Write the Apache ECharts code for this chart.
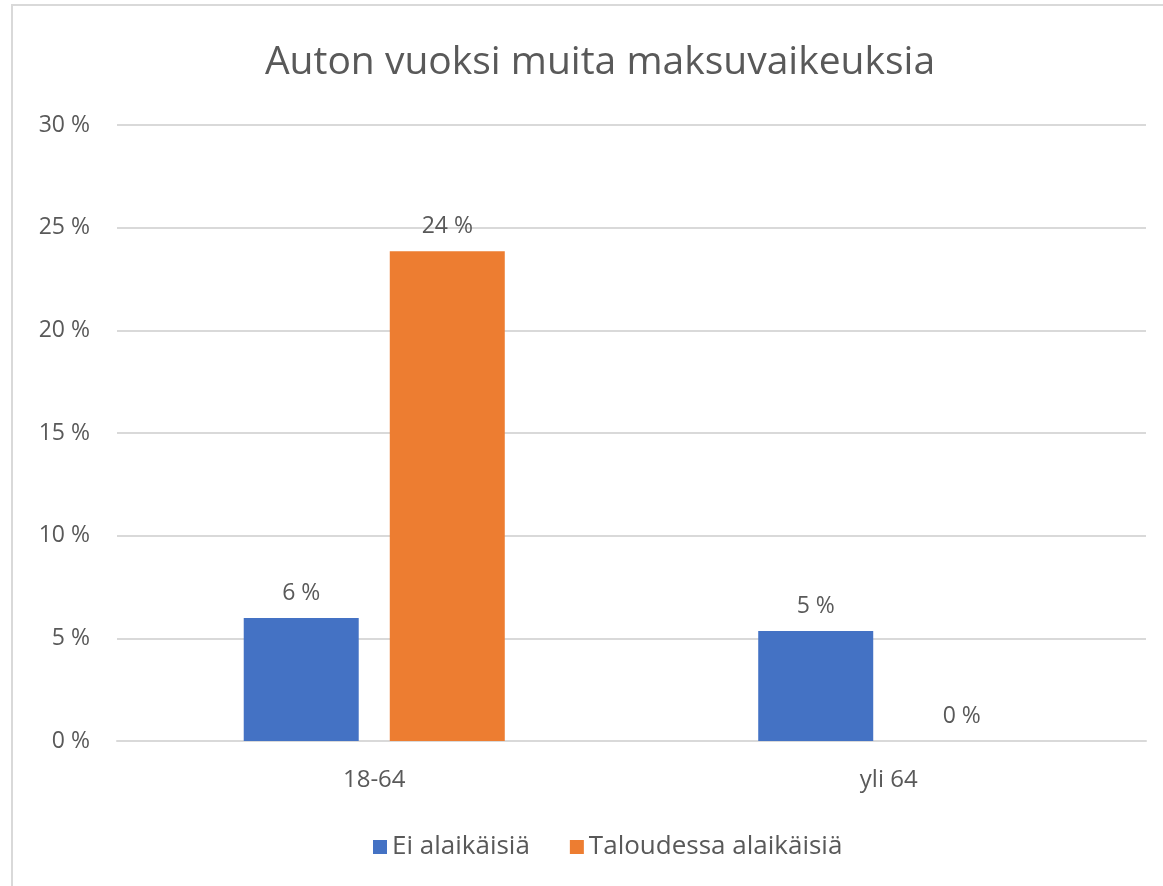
<!DOCTYPE html>
<html>
<head>
<meta charset="utf-8">
<script src="https://cdn.jsdelivr.net/npm/echarts@6/dist/echarts.min.js"></script>
<style>
	html, body { margin: 0; padding: 0; background: #fff; overflow: hidden; }
	#frame { position: absolute; left: 11px; top: 4px; width: 1200px; height: 950px; border: 2px solid #d9d9d9; }
	#main { position: absolute; left: 0; top: 0; width: 1163px; height: 886px; }
</style>
</head>
<body>
<div id="frame"></div>
<div id="main"></div>
<script>
var categories = ['18-64', 'yli 64'];
var eiAlaikaisia = [5.99, 5.36];
var taloudessaAlaikaisia = [23.85, 0];
var seriesNames = ['Ei alaikäisiä', 'Taloudessa alaikäisiä'];

var textColor = '#595959';
var fontFam = '"Open Sans", "Noto Sans", sans-serif';

function pct(v) {
	return Math.round(v) + '\u00a0%';
}

var myChart = echarts.init(document.getElementById('main'));
var option = {
	animation: false,
	title: {
		text: 'Auton vuoksi muita maksuvaikeuksia',
		left: 595,
		top: 38,
		textAlign: 'center',
		textStyle: { color: textColor, fontSize: 39, fontWeight: 'normal', fontFamily: fontFam }
	},
	legend: {
		left: 368,
		top: 829,
		itemWidth: 14,
		itemHeight: 14,
		itemGap: 40,
		icon: 'rect',
		textStyle: { color: textColor, fontSize: 26, fontFamily: fontFam }
	},
	grid: { left: 117, right: 17, top: 125, bottom: 145 },
	xAxis: {
		type: 'category',
		data: categories,
		axisLine: { lineStyle: { color: '#d9d9d9', width: 2 } },
		axisTick: { show: false },
		axisLabel: { color: textColor, fontSize: 24, fontFamily: fontFam, margin: 27 }
	},
	yAxis: {
		type: 'value',
		min: 0,
		max: 30,
		interval: 5,
		axisLine: { show: false },
		axisTick: { show: false },
		splitLine: { lineStyle: { color: '#d9d9d9', width: 2 } },
		axisLabel: {
			color: textColor, fontSize: 23, fontFamily: fontFam, margin: 27,
			formatter: function(v) { return v + '\u00a0%'; }
		}
	},
	series: [{
		name: seriesNames[0],
		type: 'bar',
		data: eiAlaikaisia,
		barWidth: 115,
		barGap: '27%',
		itemStyle: { color: '#4472c4' },
		label: {
			show: true, position: 'top', distance: 13,
			color: textColor, fontSize: 23, fontFamily: fontFam,
			formatter: function(p) { return pct(p.value); }
		}
	}, {
		name: seriesNames[1],
		type: 'bar',
		data: taloudessaAlaikaisia,
		barWidth: 115,
		itemStyle: { color: '#ed7d31' },
		label: {
			show: true, position: 'top', distance: 13,
			color: textColor, fontSize: 23, fontFamily: fontFam,
			formatter: function(p) { return pct(p.value); }
		}
	}]
};
myChart.setOption(option);
</script>
</body>
</html>
